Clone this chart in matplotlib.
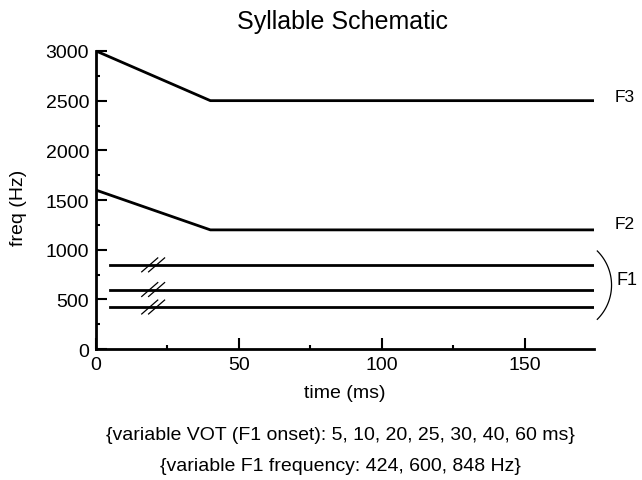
import numpy as np
import matplotlib
matplotlib.use("Agg")
import matplotlib.pyplot as plt
from matplotlib.ticker import MultipleLocator

plt.rcParams['font.family'] = ['Liberation Sans', 'DejaVu Sans']

# =====================
#   DATA
# =====================
knot_times = [0, 40, 174]          # ms
f3_freqs   = [3000, 2500, 2500]    # Hz
f2_freqs   = [1600, 1200, 1200]    # Hz
f1_levels  = [424, 600, 848]       # Hz
f1_onset   = 5                     # ms (drawn onset)
t_end      = 174                   # ms
break_t    = 20                    # ms, position of the "//" marks
vot_values = [5, 10, 20, 25, 30, 40, 60]

# =====================
#   FIGURE
# =====================
fig = plt.figure(figsize=(6.42, 4.81), dpi=100)
ax = fig.add_axes([0.1495, 0.272, 0.775, 0.62])

ax.plot(knot_times, f3_freqs, color='black', lw=2)
ax.plot(knot_times, f2_freqs, color='black', lw=2)
for f in f1_levels:
    ax.plot([f1_onset, t_end], [f, f], color='black', lw=2)
    # break marks
    for dx in (-1.2, 1.2):
        ax.plot([break_t + dx - 2.8, break_t + dx + 2.8], [f - 70, f + 70],
                color='black', lw=0.9)

# labels on the right
ax.text(181.5, f3_freqs[-1] + 45, 'F3', fontsize=12.5, va='center', ha='left', clip_on=False)
ax.text(181.5, f2_freqs[-1] + 60, 'F2', fontsize=12.5, va='center', ha='left', clip_on=False)
ax.text(182, 700, 'F1', fontsize=13, va='center', ha='left', clip_on=False)

# bracket ")" grouping the F1 lines
theta = np.radians(np.linspace(-45, 45, 60))
ax.plot(163.3 + 17.0 * np.cos(theta), 644 + 486 * np.sin(theta),
        color='black', lw=0.9, clip_on=False)

ax.set_xlim(0, 174)
ax.set_ylim(0, 3000)
ax.xaxis.set_major_locator(MultipleLocator(50))
ax.xaxis.set_minor_locator(MultipleLocator(25))
ax.yaxis.set_major_locator(MultipleLocator(500))
ax.yaxis.set_minor_locator(MultipleLocator(250))
ax.tick_params(which='major', direction='in', length=8, width=1.5, labelsize=14, pad=5)
ax.tick_params(which='minor', direction='in', length=3, width=1.5)

for side in ('top', 'right'):
    ax.spines[side].set_visible(False)
for side in ('left', 'bottom'):
    ax.spines[side].set_linewidth(2)

ax.set_xlabel('time (ms)', fontsize=14)
ax.xaxis.set_label_coords(0.5, -0.118)
ax.set_ylabel('freq (Hz)', fontsize=14)
ax.yaxis.set_label_coords(-0.139, 0.477)

fig.text(0.534, 0.954, 'Syllable Schematic', fontsize=18, ha='center', va='center')

fig.text(0.531, 0.0956,
         '{variable VOT (F1 onset): ' + ', '.join(str(v) for v in vot_values) + ' ms}',
         ha='center', va='center', fontsize=14)
fig.text(0.531, 0.031,
         '{variable F1 frequency: ' + ', '.join(str(v) for v in f1_levels) + ' Hz}',
         ha='center', va='center', fontsize=14)

fig.savefig('out.png', dpi=100)
